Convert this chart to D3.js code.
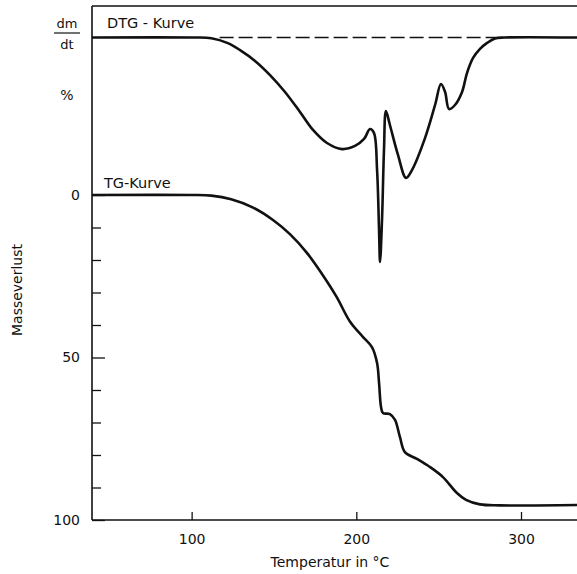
<!DOCTYPE html>
<html>
<head>
<meta charset="utf-8">
<script src="https://cdn.jsdelivr.net/npm/d3@7"></script>
<style>
  html, body { margin: 0; padding: 0; background: #fff; }
  svg text { font-family: "DejaVu Sans", "Liberation Sans", sans-serif; fill: #111; }
</style>
</head>
<body>
<svg id="chart" width="577" height="574"></svg>
<script>
// ---- Data ----
// TG curve: temperature (°C) vs mass loss (%)
const tgTemp = [39.5, 100, 112, 124, 137, 149.4, 160, 170.0, 182.2, 188.3, 196.2, 204.1, 209.5, 212.6, 213.8, 215.0, 216.2, 220.4, 223.5, 226.5, 229.5, 236.8, 244.7, 252.6, 261.1, 266.6, 275.1, 287.2, 334];
const tgLoss = [0, 0, 0.2, 1.3, 3.8, 7.7, 12.2, 17.8, 26.6, 31.6, 39.0, 43.7, 46.8, 51.7, 57.8, 65.2, 67.1, 67.4, 69.2, 74.5, 79.1, 81.2, 83.7, 86.8, 91.7, 93.8, 95.2, 95.5, 95.4];
// DTG curve: temperature (°C) vs dm/dt (arbitrary units, 0 = baseline)
const dtgTemp = [39.5, 100, 112, 122, 129.4, 138.5, 147.6, 156.7, 165.8, 173.7, 182.2, 191.3, 199.2, 204.7, 208.3, 210.7, 212.6, 213.8, 214.4, 215.6, 216.8, 218.0, 220.4, 225.3, 230.2, 233.8, 241.7, 247.8, 251.4, 253.9, 256.3, 259.9, 264.2, 267.2, 270.9, 275.1, 279.4, 284.2, 290, 334];
const dtgRate = [0, 0, -0.03, -0.25, -0.56, -1.04, -1.67, -2.42, -3.31, -4.11, -4.69, -4.96, -4.82, -4.51, -4.07, -4.24, -5.89, -8.56, -9.98, -8.11, -5.0, -3.27, -3.89, -5.22, -6.24, -5.89, -4.47, -3.0, -2.07, -2.42, -3.18, -3.0, -2.42, -1.58, -0.91, -0.51, -0.24, -0.04, 0, 0];
const dtgBaselineSpan = [117, 285];
const xTicks = [100, 200, 300];
const yMajorTicks = [0, 50, 100];
const yMinorTicks = [10, 20, 30, 40, 60, 70, 80, 90];

// ---- Layout ----
const svg = d3.select("#chart");
const padL = 92, padR = 577, padT = 6, padB = 520;

const x = d3.scaleLinear().domain([39.5, 334]).range([padL, padR]);
const y = d3.scaleLinear().domain([0, 100]).range([195, padB]);
const yd = d3.scaleLinear().domain([0, -10]).range([37.5, 262.5]);

// frame lines
const ink = "#111";
svg.append("line").attr("x1", padL).attr("x2", padL).attr("y1", padT).attr("y2", padB)
  .attr("stroke", ink).attr("stroke-width", 1.6);
svg.append("line").attr("x1", padL).attr("x2", padR).attr("y1", padT).attr("y2", padT)
  .attr("stroke", ink).attr("stroke-width", 1.6);
svg.append("line").attr("x1", padL).attr("x2", padR).attr("y1", padB).attr("y2", padB)
  .attr("stroke", ink).attr("stroke-width", 1.6);

// x ticks (inward) and labels
const xAxis = d3.axisBottom(x).tickValues(xTicks).tickSize(-8).tickFormat(d3.format("d"));
const gx = svg.append("g").attr("transform", `translate(0,${padB})`).call(xAxis);
gx.select(".domain").remove();
gx.selectAll(".tick line").attr("stroke", ink).attr("stroke-width", 1.3);
gx.selectAll(".tick text").attr("font-size", 14).attr("fill", ink).attr("y", 14);

// y ticks (inward)
const yAxisMajor = d3.axisLeft(y).tickValues(yMajorTicks).tickSize(-13).tickFormat(d3.format("d"));
const gy = svg.append("g").attr("transform", `translate(${padL},0)`).call(yAxisMajor);
gy.select(".domain").remove();
gy.selectAll(".tick line").attr("stroke", ink).attr("stroke-width", 1.3);
gy.selectAll(".tick text").attr("font-size", 14).attr("fill", ink).attr("x", -12);

const yAxisMinor = d3.axisLeft(y).tickValues(yMinorTicks).tickSize(-9).tickFormat("");
const gy2 = svg.append("g").attr("transform", `translate(${padL},0)`).call(yAxisMinor);
gy2.select(".domain").remove();
gy2.selectAll(".tick line").attr("stroke", ink).attr("stroke-width", 1.3);

// DTG dashed baseline
svg.append("line")
  .attr("x1", x(dtgBaselineSpan[0])).attr("x2", x(dtgBaselineSpan[1]))
  .attr("y1", yd(0)).attr("y2", yd(0))
  .attr("stroke", ink).attr("stroke-width", 1.3).attr("stroke-dasharray", "14,5");

// curves
const tgData = tgTemp.map((t, i) => [t, tgLoss[i]]);
const dtgData = dtgTemp.map((t, i) => [t, dtgRate[i]]);
const smooth = d3.curveCatmullRom.alpha(0.5);

svg.append("path").datum(tgData)
  .attr("fill", "none").attr("stroke", ink).attr("stroke-width", 2.6).attr("stroke-linejoin", "round")
  .attr("d", d3.line().x(d => x(d[0])).y(d => y(d[1])).curve(smooth));

svg.append("path").datum(dtgData)
  .attr("fill", "none").attr("stroke", ink).attr("stroke-width", 2.6).attr("stroke-linejoin", "round")
  .attr("d", d3.line().x(d => x(d[0])).y(d => yd(d[1])).curve(smooth));

// labels
svg.append("text").attr("x", 107).attr("y", 28).attr("font-size", 14.5).text("DTG - Kurve");
svg.append("text").attr("x", 104).attr("y", 188).attr("font-size", 14.5).text("TG-Kurve");

svg.append("text").attr("x", 67).attr("y", 28).attr("font-size", 13).attr("text-anchor", "middle").text("dm");
svg.append("line").attr("x1", 54).attr("x2", 80).attr("y1", 33).attr("y2", 33).attr("stroke", ink).attr("stroke-width", 1.2);
svg.append("text").attr("x", 67).attr("y", 49).attr("font-size", 13).attr("text-anchor", "middle").text("dt");
svg.append("text").attr("x", 67).attr("y", 100).attr("font-size", 14).attr("text-anchor", "middle").text("%");

svg.append("text").attr("transform", "translate(22,290) rotate(-90)")
  .attr("font-size", 14).attr("text-anchor", "middle").text("Masseverlust");

svg.append("text").attr("x", 330).attr("y", 567).attr("font-size", 14)
  .attr("text-anchor", "middle").text("Temperatur in °C");
</script>
</body>
</html>
